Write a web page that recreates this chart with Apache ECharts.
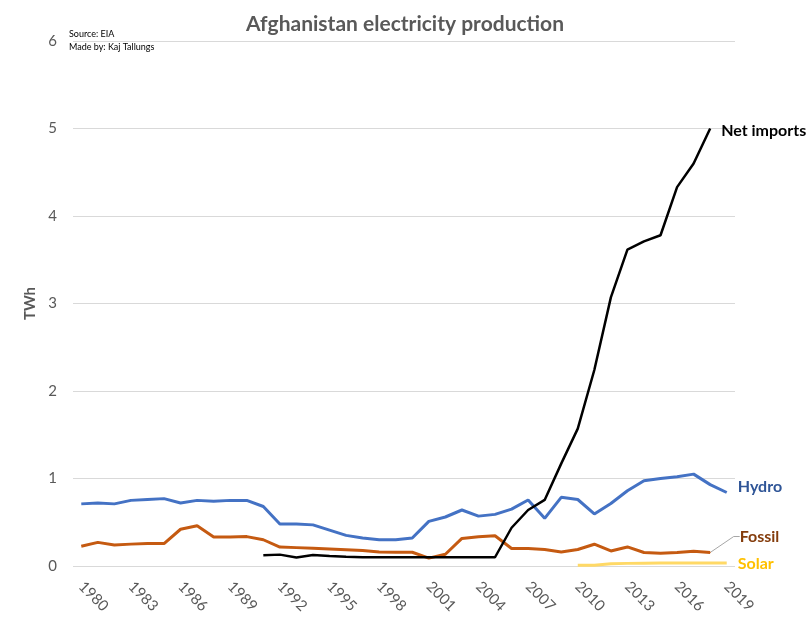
<!DOCTYPE html>
<html>
<head>
<meta charset="utf-8">
<script src="https://cdn.jsdelivr.net/npm/echarts@6/dist/echarts.min.js"></script>
<style>
  html, body { margin: 0; padding: 0; background: #fff; }
  #chart { width: 810px; height: 622px; }
</style>
</head>
<body>
<div id="chart"></div>
<script>
// years 1980..2019
const years = []
for (let y = 1980; y <= 2019; y++) years.push(String(y))

const hydro = [
  0.71, 0.72, 0.71, 0.75, 0.76, 0.77, 0.72, 0.75, 0.74, 0.75,
  0.75, 0.68, 0.48, 0.48, 0.47, 0.41, 0.35, 0.32, 0.30, 0.30,
  0.32, 0.51, 0.56, 0.64, 0.57, 0.59, 0.65, 0.755, 0.545, 0.785,
  0.76, 0.595, 0.715, 0.86, 0.975, 1.0, 1.02, 1.05, 0.93, 0.84,
]
const fossil = [
  0.225, 0.27, 0.24, 0.25, 0.256, 0.256, 0.42, 0.46, 0.332, 0.332,
  0.336, 0.30, 0.217, 0.21, 0.203, 0.195, 0.187, 0.176, 0.16, 0.157,
  0.157, 0.09, 0.134, 0.315, 0.333, 0.345, 0.20, 0.20, 0.188, 0.161,
  0.188, 0.249, 0.172, 0.218, 0.154, 0.146, 0.154, 0.169, 0.154, null,
]
const netImports = [
  null, null, null, null, null, null, null, null, null, null,
  null, 0.122, 0.13, 0.096, 0.126, 0.115, 0.107, 0.10, 0.10, 0.10,
  0.10, 0.10, 0.10, 0.10, 0.10, 0.10, 0.437, 0.64, 0.755, 1.17,
  1.57, 2.24, 3.07, 3.615, 3.71, 3.78, 4.33, 4.6, 5.0, null,
]
const solar = [
  null, null, null, null, null, null, null, null, null, null,
  null, null, null, null, null, null, null, null, null, null,
  null, null, null, null, null, null, null, null, null, null,
  0.008, 0.008, 0.025, 0.03, 0.032, 0.033, 0.034, 0.035, 0.035, 0.035,
]

const FONT = 'Lato'
const LABEL_SIZE = 16
const chart = echarts.init(document.getElementById('chart'))

// fossil gets its label on the last point with a leader line
const lastFossil = 38
const fossilData = fossil.map((v, i) => {
  if (i === lastFossil) {
    return {
      value: v,
      symbol: 'circle',
      symbolSize: 1,
      label: {
        show: true,
        formatter: 'Fossil',
        position: 'right',
        color: '#843C0C',
        fontFamily: FONT,
        fontWeight: 'bold',
        fontSize: LABEL_SIZE,
      },
    }
  }
  return { value: v, symbol: 'none' }
})

chart.setOption({
  animation: false,
  title: {
    text: 'Afghanistan electricity production',
    left: 'center',
    top: 9,
    textStyle: {
      color: '#595959',
      fontFamily: FONT,
      fontWeight: 'bold',
      fontSize: 21,
    },
  },
  graphic: [
    {
      type: 'text',
      left: 69,
      top: 28,
      style: {
        text: 'Source: EIA\nMade by: Kaj Tallungs',
        fill: '#000',
        font: '9px ' + FONT,
        lineHeight: 13,
      },
    },
  ],
  grid: {
    left: 73,
    right: 75,
    top: 41,
    bottom: 56,
  },
  xAxis: {
    type: 'category',
    data: years,
    boundaryGap: true,
    axisLine: { show: false },
    axisTick: { show: false },
    axisLabel: {
      interval: 2,
      rotate: -45,
      margin: 18,
      color: '#595959',
      fontFamily: FONT,
      fontSize: 15,
    },
  },
  yAxis: {
    type: 'value',
    min: 0,
    max: 6,
    interval: 1,
    name: 'TWh',
    nameLocation: 'middle',
    nameGap: 32,
    nameTextStyle: {
      color: '#595959',
      fontFamily: FONT,
      fontWeight: 'bold',
      fontSize: 15,
    },
    axisLabel: {
      margin: 16,
      color: '#595959',
      fontFamily: FONT,
      fontSize: 15,
    },
    splitLine: {
      lineStyle: { color: '#D9D9D9', width: 1 },
    },
  },
  series: [
    {
      name: 'Hydro',
      type: 'line',
      data: hydro,
      symbol: 'none',
      lineStyle: { color: '#4472C4', width: 3 },
      endLabel: {
        show: true,
        formatter: 'Hydro',
        distance: 11,
        offset: [0, -6],
        color: '#2F5597',
        fontFamily: FONT,
        fontWeight: 'bold',
        fontSize: LABEL_SIZE,
      },
    },
    {
      name: 'Fossil',
      type: 'line',
      data: fossilData,
      showSymbol: true,
      itemStyle: { color: '#C55A11' },
      lineStyle: { color: '#C55A11', width: 3 },
      labelLayout: { dx: 24, dy: -16 },
      labelLine: {
        show: true,
        length2: 6,
        lineStyle: { color: '#A6A6A6', width: 1 },
      },
    },
    {
      name: 'Solar',
      type: 'line',
      data: solar,
      symbol: 'none',
      lineStyle: { color: '#FFD966', width: 3 },
      endLabel: {
        show: true,
        formatter: 'Solar',
        distance: 11,
        offset: [0, 1],
        color: '#FFC000',
        fontFamily: FONT,
        fontWeight: 'bold',
        fontSize: LABEL_SIZE,
      },
    },
    {
      name: 'Net imports',
      type: 'line',
      data: netImports,
      symbol: 'none',
      lineStyle: { color: '#000', width: 2.5 },
      endLabel: {
        show: true,
        formatter: 'Net imports',
        distance: 11,
        offset: [0, 2],
        color: '#000',
        fontFamily: FONT,
        fontWeight: 'bold',
        fontSize: LABEL_SIZE,
      },
    },
  ],
})
</script>
</body>
</html>
